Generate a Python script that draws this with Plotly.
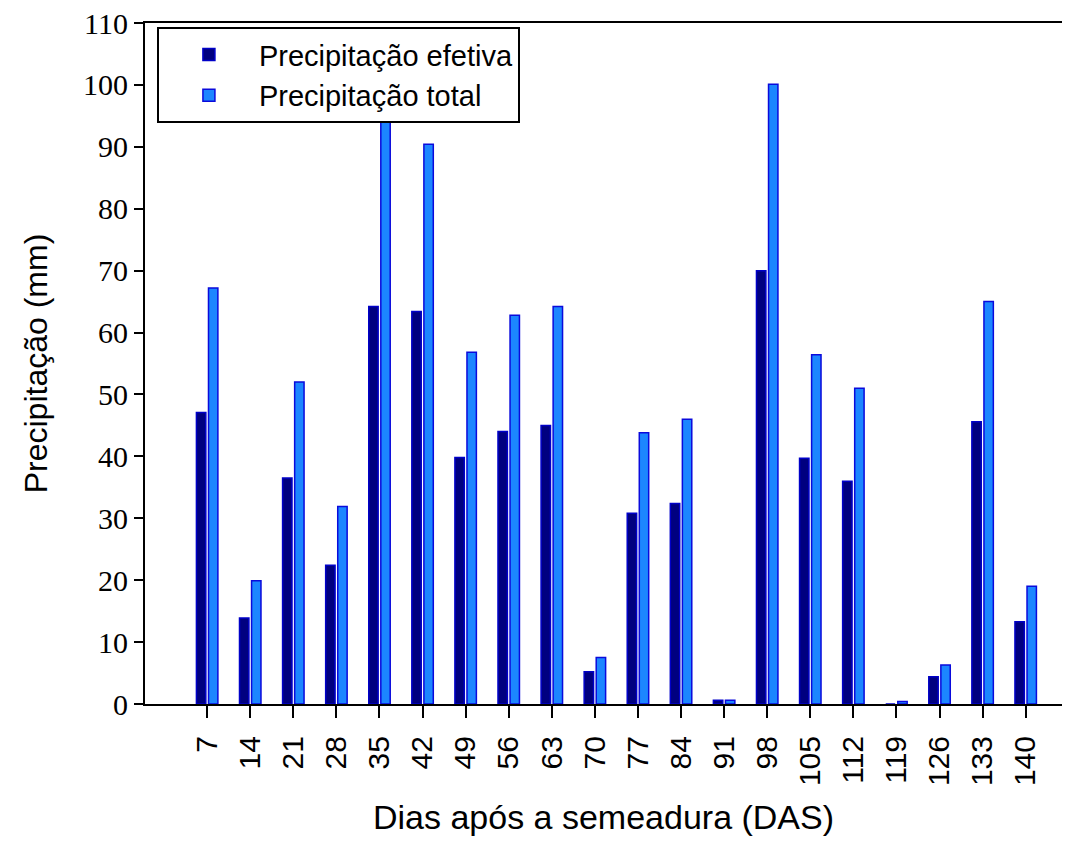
import plotly.graph_objects as go

days = [7, 14, 21, 28, 35, 42, 49, 56, 63, 70, 77, 84, 91, 98, 105, 112, 119, 126, 133, 140]
efetiva = [47.1, 13.9, 36.5, 22.4, 64.2, 63.4, 39.8, 44.0, 45.0, 5.2,
           30.8, 32.4, 0.6, 70.0, 39.7, 36.0, 0.0, 4.4, 45.6, 13.3]
total = [67.2, 19.9, 52.0, 31.9, 95.0, 90.4, 56.8, 62.8, 64.2, 7.5,
         43.8, 46.0, 0.6, 100.1, 56.4, 51.0, 0.4, 6.3, 65.0, 19.0]
y_ticks = list(range(0, 111, 10))

fig = go.Figure()
fig.add_trace(go.Bar(
    x=days, y=efetiva, name="Precipitação efetiva",
    marker=dict(color="#000080", line=dict(color="#0000C8", width=1.5)),
))
fig.add_trace(go.Bar(
    x=days, y=total, name="Precipitação total",
    marker=dict(color="#1C86FF", line=dict(color="#0A0ADC", width=1.5)),
))

fig.update_layout(
    width=1077, height=846,
    margin=dict(l=145, r=15, t=23, b=142),
    paper_bgcolor="white", plot_bgcolor="white",
    barmode="group", bargap=0.44, bargroupgap=0.22,
    legend=dict(
        x=0.013, y=0.994, xanchor="left", yanchor="top",
        bgcolor="white", bordercolor="black", borderwidth=2,
        font=dict(family="Liberation Sans, Arial", size=29, color="black"),
        itemwidth=90, tracegroupgap=0,
    ),
    showlegend=True,
)

fig.update_xaxes(
    range=[-3.1, 145.9], automargin=False,
    tickmode="array", tickvals=days, ticktext=[str(d) for d in days],
    tickangle=-90, ticks="outside", ticklen=12, tickwidth=2, tickcolor="black",
    ticklabelstandoff=6,
    tickfont=dict(family="Liberation Sans, Arial", size=30, color="black"),
    showline=True, linecolor="black", linewidth=2, mirror=True,
    showgrid=False, zeroline=False,
    title=dict(text="Dias após a semeadura (DAS)",
               font=dict(family="Liberation Sans, Arial", size=34, color="black"),
               standoff=20),
)
fig.update_yaxes(
    range=[0, 110], automargin=False,
    tickmode="array", tickvals=y_ticks,
    ticks="outside", ticklen=9, tickwidth=2, tickcolor="black",
    tickfont=dict(family="Liberation Serif, Times New Roman", size=30, color="black"),
    showline=True, linecolor="black", linewidth=2,
    showgrid=False, zeroline=False,
    title=dict(text="Precipitação (mm)",
               font=dict(family="Liberation Sans, Arial", size=32, color="black"),
               standoff=26),
)

fig.write_html("out.html")
